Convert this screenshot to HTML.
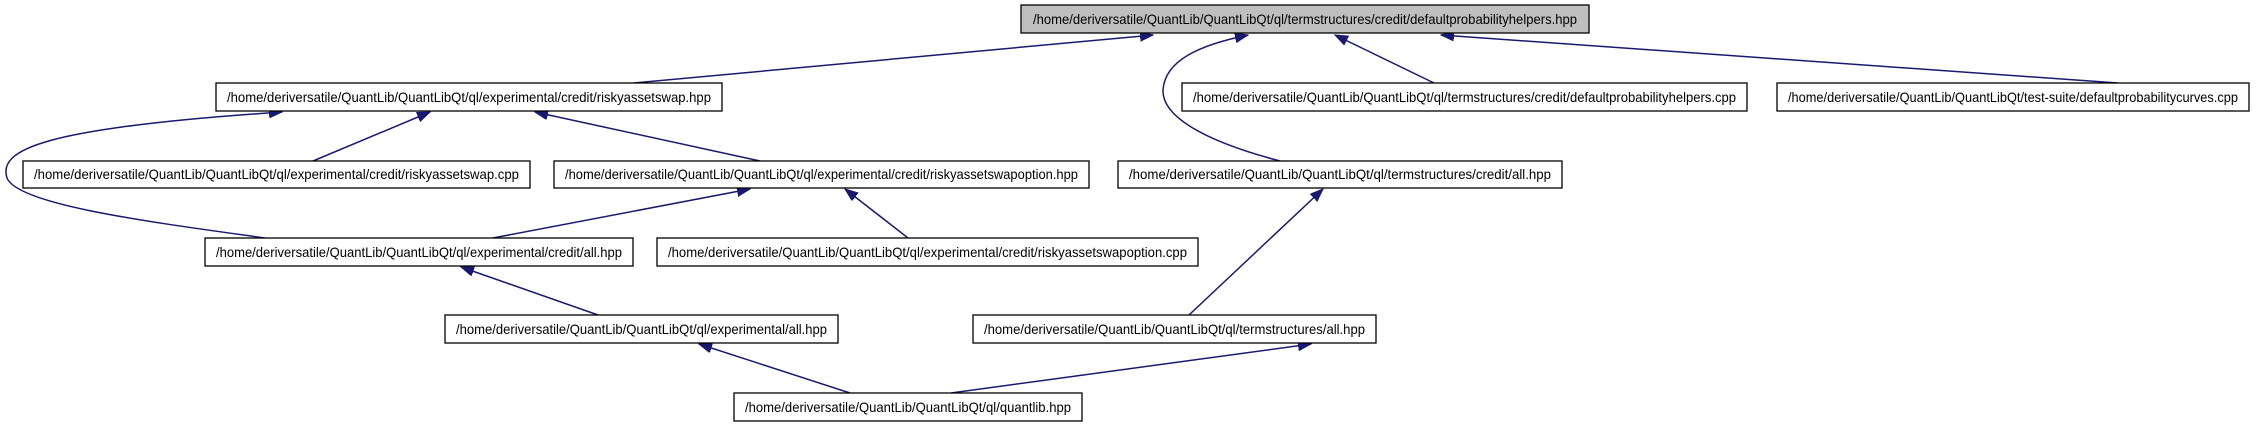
<!DOCTYPE html>
<html><head><meta charset="utf-8"><style>
html,body{margin:0;padding:0;background:#fff;}
svg{display:block;}
text{font-family:"Liberation Sans",Arial,sans-serif;font-size:14px;fill:#000;}
</style></head><body>
<svg width="2260" height="427" viewBox="0 0 2260 427" xmlns="http://www.w3.org/2000/svg">
<defs>
<marker id="a" markerUnits="userSpaceOnUse" markerWidth="14" markerHeight="12" refX="13" refY="5" orient="auto">
<path d="M0,0 L13,5 L0,10 z" fill="#191970" stroke="#191970"/>
</marker>
</defs>
<g fill="none" stroke="#191970" stroke-width="1.5" marker-end="url(#a)">
<path d="M634,83 L1153,35"/>
<path d="M265,238 C150,222 18,205 7,178 C-2,150 40,128 282,112"/>
<path d="M313,161 L430,112"/>
<path d="M760,161 L535,112"/>
<path d="M493,238 L750,189"/>
<path d="M908,238 L845,189"/>
<path d="M598,315 L461,267"/>
<path d="M850,393 L699,344"/>
<path d="M951,393 L1311,344"/>
<path d="M1189,315 L1323,189"/>
<path d="M1280,161 C1200,140 1162,115 1163,90 C1165,60 1200,45 1248,35"/>
<path d="M1434,83 L1335,35"/>
<path d="M2118,83 L1441,35"/>
</g>
<g stroke="#000" stroke-width="1.3">
<rect x="1021" y="5" width="568" height="28" fill="#bfbfbf"/>
<rect x="216" y="83" width="506" height="28" fill="#fff"/>
<rect x="1182" y="83" width="565" height="28" fill="#fff"/>
<rect x="1777" y="83" width="472" height="28" fill="#fff"/>
<rect x="23" y="161" width="507" height="27" fill="#fff"/>
<rect x="554" y="161" width="535" height="27" fill="#fff"/>
<rect x="1118" y="161" width="444" height="27" fill="#fff"/>
<rect x="205" y="238" width="428" height="28" fill="#fff"/>
<rect x="657" y="238" width="541" height="28" fill="#fff"/>
<rect x="445" y="315" width="393" height="28" fill="#fff"/>
<rect x="973" y="315" width="403" height="28" fill="#fff"/>
<rect x="734" y="393" width="348" height="28" fill="#fff"/>
</g>
<g>
<text x="1033" y="24" textLength="544" lengthAdjust="spacingAndGlyphs">/home/deriversatile/QuantLib/QuantLibQt/ql/termstructures/credit/defaultprobabilityhelpers.hpp</text>
<text x="227" y="102" textLength="484" lengthAdjust="spacingAndGlyphs">/home/deriversatile/QuantLib/QuantLibQt/ql/experimental/credit/riskyassetswap.hpp</text>
<text x="1193" y="102" textLength="543" lengthAdjust="spacingAndGlyphs">/home/deriversatile/QuantLib/QuantLibQt/ql/termstructures/credit/defaultprobabilityhelpers.cpp</text>
<text x="1788" y="102" textLength="450" lengthAdjust="spacingAndGlyphs">/home/deriversatile/QuantLib/QuantLibQt/test-suite/defaultprobabilitycurves.cpp</text>
<text x="34" y="179" textLength="485" lengthAdjust="spacingAndGlyphs">/home/deriversatile/QuantLib/QuantLibQt/ql/experimental/credit/riskyassetswap.cpp</text>
<text x="565" y="179" textLength="513" lengthAdjust="spacingAndGlyphs">/home/deriversatile/QuantLib/QuantLibQt/ql/experimental/credit/riskyassetswapoption.hpp</text>
<text x="1129" y="179" textLength="422" lengthAdjust="spacingAndGlyphs">/home/deriversatile/QuantLib/QuantLibQt/ql/termstructures/credit/all.hpp</text>
<text x="216" y="257" textLength="406" lengthAdjust="spacingAndGlyphs">/home/deriversatile/QuantLib/QuantLibQt/ql/experimental/credit/all.hpp</text>
<text x="668" y="257" textLength="519" lengthAdjust="spacingAndGlyphs">/home/deriversatile/QuantLib/QuantLibQt/ql/experimental/credit/riskyassetswapoption.cpp</text>
<text x="456" y="334" textLength="371" lengthAdjust="spacingAndGlyphs">/home/deriversatile/QuantLib/QuantLibQt/ql/experimental/all.hpp</text>
<text x="984" y="334" textLength="381" lengthAdjust="spacingAndGlyphs">/home/deriversatile/QuantLib/QuantLibQt/ql/termstructures/all.hpp</text>
<text x="745" y="412" textLength="326" lengthAdjust="spacingAndGlyphs">/home/deriversatile/QuantLib/QuantLibQt/ql/quantlib.hpp</text>
</g>
</svg>
</body></html>
